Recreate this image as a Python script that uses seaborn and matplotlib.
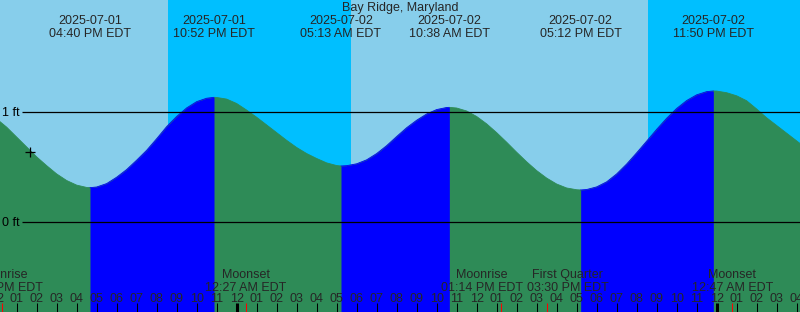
import numpy as np
import pandas as pd
import matplotlib
matplotlib.use("Agg")
import matplotlib.pyplot as plt
import seaborn as sns

# ---------------- data ----------------
location = "Bay Ridge, Maryland"
base_time = "2025-07-01 00:00"
view_start = "2025-07-01 12:10"
view_end = "2025-07-03 04:10"

tide_event_times = ["2025-07-01 16:40", "2025-07-01 22:52", "2025-07-02 05:13",
                    "2025-07-02 10:38", "2025-07-02 17:12", "2025-07-02 23:50"]
tide_event_types = ["low", "high", "low", "high", "low", "high"]
tide_event_heights = [0.315, 1.136, 0.512, 1.045, 0.294, 1.194]

sample_start = "2025-07-01 12:00"
sample_step = "30min"
tide_heights = [
    0.94, 0.865, 0.775, 0.685, 0.595, 0.515, 0.44, 0.38, 0.338, 0.317,
    0.321, 0.352, 0.41, 0.48, 0.565, 0.655, 0.76, 0.87, 0.962, 1.04, 1.097, 1.128,
    1.135, 1.12, 1.08, 1.02, 0.955, 0.885, 0.815, 0.745, 0.68, 0.625, 0.58, 0.54, 0.516,
    0.515, 0.532, 0.568, 0.625, 0.697, 0.78, 0.86, 0.928, 0.985, 1.025, 1.044,
    1.039, 1.012, 0.962, 0.895, 0.815, 0.728, 0.637, 0.55, 0.47, 0.402, 0.348, 0.312, 0.296,
    0.298, 0.322, 0.368, 0.44, 0.53, 0.632, 0.738, 0.845, 0.946, 1.035, 1.107, 1.159, 1.188,
    1.193, 1.178, 1.15, 1.105, 1.03, 0.95, 0.88, 0.81, 0.74, 0.67,
]

sun_times = ["2025-07-01 20:34", "2025-07-02 05:43", "2025-07-02 20:34"]
sun_types = ["sunset", "sunrise", "sunset"]

moon_event_times = ["2025-07-01 12:15", "2025-07-02 00:27", "2025-07-02 13:14",
                    "2025-07-02 15:30", "2025-07-03 00:47"]
moon_event_names = ["Moonrise", "Moonset", "Moonrise", "First Quarter", "Moonset"]

ref_levels = [0, 1]
ref_labels = ["0 ft", "1 ft"]

now_time = "2025-07-01 13:41"
now_height = 0.635

# ---------------- helpers ----------------
W, H = 800, 312
base = pd.Timestamp(base_time)
def hrs(ts):
    return (pd.Timestamp(ts) - base) / pd.Timedelta(hours=1)

def yfrac(py):
    return 1 - py / H

day_color = "#87CEEB"
night_color = "#00BFFF"
fall_color = "#2E8B57"
rise_color = "#0000FF"

sns.set_theme(style="white")
plt.rcParams["font.family"] = ["Liberation Sans", "DejaVu Sans"]

fig = plt.figure(figsize=(W / 100, H / 100), dpi=100)
ax = fig.add_axes([0, 0, 1, 1])
ax.set_axis_off()

x0, x1 = hrs(view_start), hrs(view_end)
ax.set_xlim(x0, x1)
px_per_ft = 110.0
zero_py = 222.3
ax.set_ylim((zero_py - H) / px_per_ft, zero_py / px_per_ft)

# ---------------- sky ----------------
sun_x = [hrs(t) for t in sun_times]
edges = [x0 - 1] + sun_x + [x1 + 1]
state = "day" if sun_types[0] == "sunset" else "night"
for a, b in zip(edges[:-1], edges[1:]):
    ax.axvspan(a, b, color=day_color if state == "day" else night_color, lw=0, zorder=0)
    state = "night" if state == "day" else "day"

# ---------------- tide ----------------
samp_times = pd.date_range(sample_start, periods=len(tide_heights), freq=sample_step)
df = pd.DataFrame({"t": [hrs(t) for t in samp_times], "h": tide_heights})
ev = pd.DataFrame({"t": [hrs(t) for t in tide_event_times], "h": tide_event_heights})
df = pd.concat([df, ev]).drop_duplicates("t").sort_values("t").reset_index(drop=True)

bottom = (zero_py - H) / px_per_ft - 0.1
ax.fill_between(df["t"], df["h"], bottom, color=fall_color, lw=0, zorder=1)

ev_t = [hrs(t) for t in tide_event_times]
for i, typ in enumerate(tide_event_types):
    if typ == "low" and i + 1 < len(ev_t):
        seg = df[(df["t"] >= ev_t[i]) & (df["t"] <= ev_t[i + 1])]
        ax.fill_between(seg["t"], seg["h"], bottom, color=rise_color, lw=0, zorder=2)

# curve edges drawn with seaborn (rising / falling phases)
bounds = [x0 - 10] + ev_t + [x1 + 10]
rows = []
for k, (a, b) in enumerate(zip(bounds[:-1], bounds[1:])):
    seg = df[(df["t"] >= a) & (df["t"] <= b)].copy()
    prev_type = tide_event_types[k - 1] if k > 0 else ("high" if tide_event_types[0] == "low" else "low")
    seg["phase"] = "rising" if prev_type == "low" else "falling"
    seg["seg"] = k
    rows.append(seg)
edge_df = pd.concat(rows)
sns.lineplot(data=edge_df, x="t", y="h", hue="phase", units="seg", estimator=None,
             palette={"rising": rise_color, "falling": fall_color},
             lw=0.6, legend=False, ax=ax, zorder=3)

# ---------------- reference lines ----------------
line_start = x0 + 22 / 20.0
for lvl, lab in zip(ref_levels, ref_labels):
    ax.plot([line_start, x1], [lvl, lvl], color="black", lw=0.9, zorder=4,
            solid_capstyle="butt")
    ax.text(x0 + 2 / 20.0, lvl - 3.6 / px_per_ft, lab, fontsize=9, ha="left",
            va="baseline", color="black", zorder=5)

# current-time marker
ax.plot([hrs(now_time)], [now_height], marker="+", ms=7, mew=0.9, color="black", zorder=6)

# ---------------- text ----------------
xt = ax.get_xaxis_transform()
ax.text((x0 + x1) / 2, yfrac(11.3), location, fontsize=9, ha="center", va="baseline",
        transform=xt, zorder=7)
for t in tide_event_times:
    ts = pd.Timestamp(t)
    ax.text(hrs(t), yfrac(24.2), ts.strftime("%Y-%m-%d"), fontsize=9, ha="center",
            va="baseline", transform=xt, zorder=7)
    ax.text(hrs(t), yfrac(36.6), ts.strftime("%I:%M %p") + " EDT", fontsize=9,
            ha="center", va="baseline", transform=xt, zorder=7)

# moon event labels (label placement offsets in px, to keep neighbours apart)
moon_offsets_px = [0, 0, -19.5, 21, 0]
for t, name, off in zip(moon_event_times, moon_event_names, moon_offsets_px):
    ts = pd.Timestamp(t)
    xx = hrs(t) + off / 20.0
    ax.text(xx, yfrac(278.3), name, fontsize=9, ha="center", va="baseline",
            transform=xt, zorder=7)
    ax.text(xx, yfrac(290.8), ts.strftime("%I:%M %p") + " EDT", fontsize=9, ha="center",
            va="baseline", transform=xt, zorder=7)

# hour ticks and labels
hours = pd.date_range(pd.Timestamp(view_start).floor("h"), pd.Timestamp(view_end).ceil("h"), freq="h")
for hts in hours:
    hx = hrs(hts)
    lw = 2.2 if hts.hour == 0 else 0.75
    ax.plot([hx, hx], [yfrac(303.3), yfrac(312)], color="black", lw=lw, transform=xt,
            solid_capstyle="butt", zorder=6)
    ax.text(hx, yfrac(302.0), hts.strftime("%I"), fontsize=9, ha="center", va="baseline",
            transform=xt, zorder=7)
for t in moon_event_times:
    ax.plot([hrs(t), hrs(t)], [yfrac(303.3), yfrac(312)], color="red", lw=0.75,
            transform=xt, solid_capstyle="butt", zorder=6)

fig.savefig("out.png", dpi=100)
